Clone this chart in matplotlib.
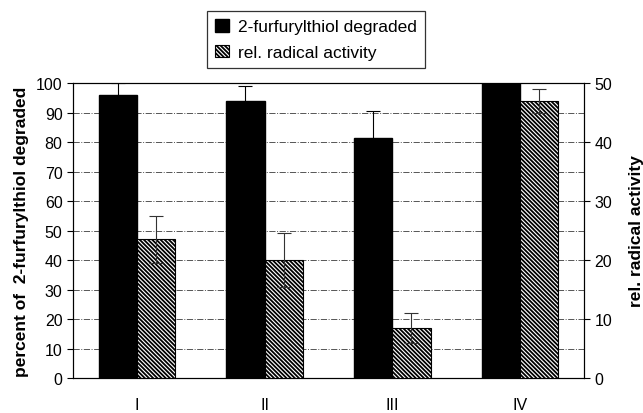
import numpy as np
import matplotlib
matplotlib.use("Agg")
import matplotlib.pyplot as plt

plt.rcParams["font.family"] = ["Liberation Sans", "DejaVu Sans"]
plt.rcParams["hatch.linewidth"] = 1.3

grupos = ["I", "II", "III", "IV"]
degradado = [96, 94, 81.5, 100]
erro_degradado = [4, 5, 9, 4]
atividade = [23.5, 20, 8.5, 47]
erro_atividade = [4, 4.5, 2.5, 2]

x = np.arange(len(grupos))
largura = 0.3

fig = plt.figure(figsize=(6.43, 4.14), dpi=100)
ax = fig.add_axes([0.1135, 0.0845, 0.7945, 0.7125])
ax2 = ax.twinx()

ax.bar(x - largura / 2, degradado, largura, color="black", edgecolor="black",
       label="2-furfurylthiol degraded", zorder=3)
ax.errorbar(x - largura / 2, degradado, yerr=erro_degradado, fmt="none",
            ecolor="black", elinewidth=0.8, capsize=5, capthick=0.8, zorder=4)

# barras hachuradas no eixo da direita (0-50)
ax2.bar(x + largura / 2, atividade, largura, color="white", edgecolor="black",
        hatch="\\\\\\\\\\\\\\\\", linewidth=0.8, label="rel. radical activity", zorder=3)
ax2.errorbar(x + largura / 2, atividade, yerr=erro_atividade, fmt="none",
             ecolor="#333333", elinewidth=0.8, capsize=5, capthick=0.8, zorder=4)

ax.set_xlim(-0.5, 3.5)
ax.set_ylim(0, 100)
ax2.set_ylim(0, 50)
ax.set_yticks(range(0, 101, 10))
ax2.set_yticks(range(0, 51, 10))
ax.set_xticks(x)
ax.set_xticklabels(grupos)
ax.tick_params(axis="x", length=0, pad=14, labelsize=11.5)
ax.tick_params(axis="y", direction="out", length=4, labelsize=11.5)
ax2.tick_params(axis="y", direction="out", length=4, labelsize=11.5)
ax.yaxis.grid(True, linestyle="-.", color="#555555", linewidth=0.7, zorder=0)
ax.set_axisbelow(True)

ax.set_ylabel("percent of  2-furfurylthiol degraded", fontsize=12.5, fontweight="bold", labelpad=5)
ax2.set_ylabel("rel. radical activity", fontsize=12.5, fontweight="bold", labelpad=12)

for a in (ax, ax2):
    for s in a.spines.values():
        s.set_linewidth(0.8)

h1, l1 = ax.get_legend_handles_labels()
h2, l2 = ax2.get_legend_handles_labels()
leg = fig.legend(h1 + h2, l1 + l2, loc="upper left", bbox_to_anchor=(0.322, 0.971),
                 fontsize=12.5, frameon=True, fancybox=False, edgecolor="black",
                 handlelength=0.8, handleheight=0.75, handletextpad=0.55,
                 labelspacing=0.6, borderpad=0.45, borderaxespad=0)
leg.get_frame().set_linewidth(0.9)

fig.savefig("out.png", dpi=100)
